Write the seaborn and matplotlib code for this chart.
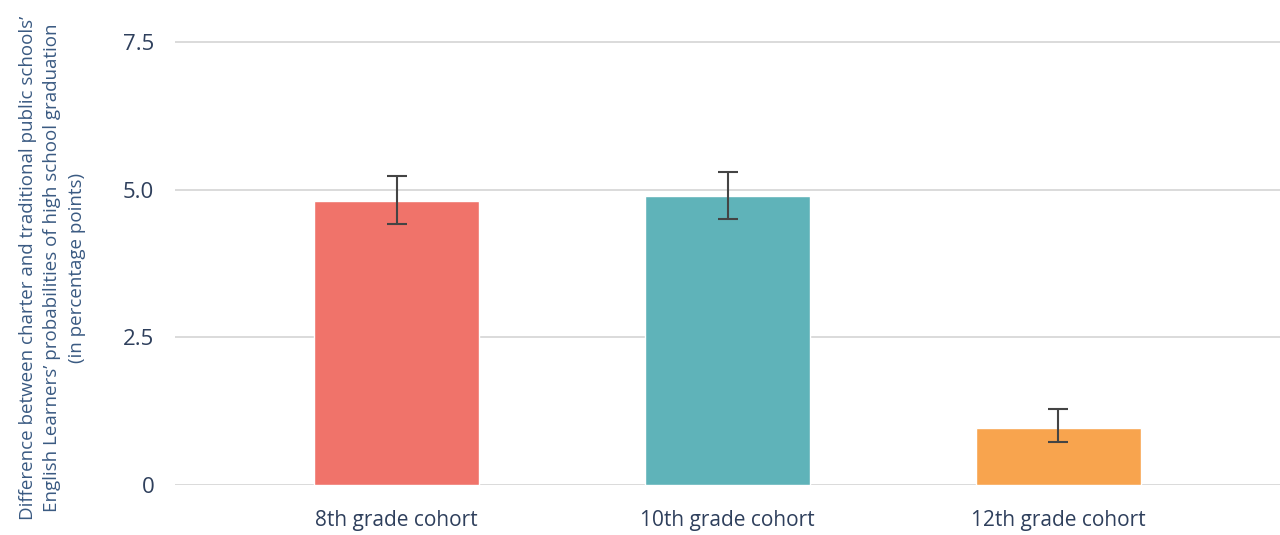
import matplotlib
matplotlib.use("Agg")
import matplotlib.pyplot as plt
import seaborn as sns
import pandas as pd

# chart values
cohorts = ["8th grade cohort", "10th grade cohort", "12th grade cohort"]
estimates = [4.81, 4.89, 0.97]
ci_lower = [4.42, 4.50, 0.73]
ci_upper = [5.23, 5.30, 1.29]
colors = ["#F0736A", "#5FB3B9", "#F8A44E"]
yticks = [0, 2.5, 5.0, 7.5]
ytick_labels = ["0", "2.5", "5.0", "7.5"]

df = pd.DataFrame({"cohort": cohorts, "value": estimates})

sns.set_style("white")
plt.rcParams["font.family"] = ["Open Sans", "DejaVu Sans"]

fig = plt.figure(figsize=(12.8, 5.35), dpi=100)
ax = fig.add_axes([175 / 1280, 50 / 535, 1105 / 1280, (485 - 30) / 535])

sns.barplot(data=df, x="cohort", y="value", hue="cohort", palette=colors,
            width=0.5, saturation=1, legend=False, ax=ax, zorder=3)

yerr = [[e - lo for e, lo in zip(estimates, ci_lower)],
        [hi - e for e, hi in zip(estimates, ci_upper)]]
ax.errorbar(range(len(cohorts)), estimates, yerr=yerr, fmt="none",
            ecolor="#444444", elinewidth=1.5, capsize=7, capthick=1.5, zorder=4)

ax.set_xlim(-0.67, 2.67)
ax.set_ylim(0, 7.7)
ax.set_yticks(yticks)
ax.set_yticklabels(ytick_labels)
ax.yaxis.grid(True, color="#d4d4d4", linewidth=1.2, zorder=0)
ax.xaxis.grid(False)
for s in ax.spines.values():
    s.set_visible(False)
ax.tick_params(axis="y", length=0, pad=15, labelsize=16, labelcolor="#2E3F5C")
ax.tick_params(axis="x", length=0, pad=18, labelsize=15, labelcolor="#2E3F5C")
ax.set_xlabel("")
ax.set_ylabel("")

fig.text(0.041, 0.5,
         "Difference between charter and traditional public schools\u2019\n"
         "English Learners\u2019 probabilities of high school graduation\n"
         "(in percentage points)",
         rotation=90, ha="center", va="center", fontsize=13.5,
         color="#3A5A82", linespacing=1.45)

fig.savefig("out.png", dpi=100)
